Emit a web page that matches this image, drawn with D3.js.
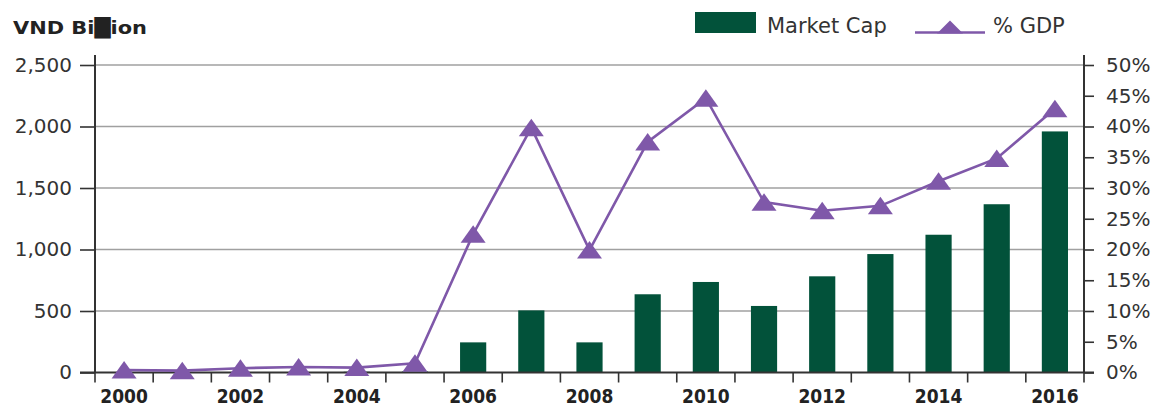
<!DOCTYPE html>
<html>
<head>
<meta charset="utf-8">
<script src="https://cdn.jsdelivr.net/npm/d3@7"></script>
<style>
  body { margin: 0; background: #fff; }
  svg { display: block; }
</style>
</head>
<body>
<div id="vis"></div>
<script>
// chart values
var years = ["2000","2001","2002","2003","2004","2005","2006","2007","2008","2009","2010","2011","2012","2013","2014","2015","2016"];
var marketCap = [1, 3, 3, 4, 6, 8, 245, 505, 245, 636, 736, 541, 782, 963, 1120, 1368, 1960];
var gdpPct = [0.4, 0.3, 0.7, 0.9, 0.8, 1.5, 22.5, 39.8, 19.9, 37.5, 44.6, 27.7, 26.3, 27.1, 31.1, 34.8, 42.9];
var leftTicks = [0, 500, 1000, 1500, 2000, 2500];
var rightTicks = [0, 5, 10, 15, 20, 25, 30, 35, 40, 45, 50];
var yearLabels = ["2000","2002","2004","2006","2008","2010","2012","2014","2016"];

var width = 1158, height = 409;
var margin = {top: 65, right: 74, bottom: 37, left: 95};

var green = "#02523a", purple = "#7f58a9", grid = "#a0a0a0", axisCol = "#333";

var svg = d3.select("#vis").append("svg")
  .attr("width", width)
  .attr("height", height);

var x = d3.scaleBand()
  .domain(years)
  .range([margin.left, width - margin.right])
  .paddingInner(0.55)
  .paddingOuter(0.275);

var y = d3.scaleLinear().domain([0, 2500]).range([height - margin.bottom + 0.5, margin.top]);
var y2 = d3.scaleLinear().domain([0, 50]).range(y.range());

var x0 = margin.left, x1 = width - margin.right, base = y(0);

// gridlines
svg.append("g")
  .selectAll("line")
  .data(leftTicks.slice(1))
  .enter().append("line")
    .attr("x1", x0).attr("x2", x1)
    .attr("y1", function(d) { return y(d); })
    .attr("y2", function(d) { return y(d); })
    .style("stroke", grid)
    .style("stroke-width", 1.6);

// bars
svg.append("g")
  .selectAll("rect")
  .data(years)
  .enter().append("rect")
    .attr("x", function(d) { return x(d); })
    .attr("width", x.bandwidth())
    .attr("y", function(d, i) { return y(marketCap[i]); })
    .attr("height", function(d, i) { return base - y(marketCap[i]); })
    .style("fill", green);

// left axis
var leftAxis = svg.append("g")
  .attr("transform", "translate(" + x0 + ",0)")
  .call(d3.axisLeft(y).tickValues(leftTicks).tickSize(15).tickPadding(8).tickFormat(d3.format(",")));
leftAxis.select(".domain").remove();
leftAxis.selectAll(".tick line").style("stroke", axisCol).style("stroke-width", 1.6);
leftAxis.selectAll("text")
  .style("font-family", "DejaVu Sans")
  .style("font-size", "20px")
  .style("fill", "#333");
svg.append("line")
  .attr("x1", x0).attr("x2", x0).attr("y1", 55).attr("y2", base)
  .style("stroke", axisCol).style("stroke-width", 2);

// right axis
var rightAxis = svg.append("g")
  .attr("transform", "translate(" + x1 + ",0)")
  .call(d3.axisRight(y2).tickValues(rightTicks).tickSize(10).tickPadding(12).tickFormat(function(d) { return d + "%"; }));
rightAxis.select(".domain").remove();
rightAxis.selectAll(".tick line").style("stroke", axisCol).style("stroke-width", 1.6);
rightAxis.selectAll("text")
  .style("font-family", "DejaVu Sans")
  .style("font-size", "20px")
  .style("fill", "#333");
svg.append("line")
  .attr("x1", x1).attr("x2", x1).attr("y1", 55).attr("y2", base)
  .style("stroke", axisCol).style("stroke-width", 2);

// bottom axis: ticks at band edges, labels on every other year
svg.append("line")
  .attr("x1", 80).attr("x2", x1 + 10).attr("y1", base).attr("y2", base)
  .style("stroke", axisCol).style("stroke-width", 2);
svg.append("g")
  .selectAll("line")
  .data(d3.range(years.length + 1))
  .enter().append("line")
    .attr("x1", function(i) { return x0 + i * x.step(); })
    .attr("x2", function(i) { return x0 + i * x.step(); })
    .attr("y1", base).attr("y2", base + 10)
    .style("stroke", axisCol).style("stroke-width", 1.6);

var bottomAxis = svg.append("g")
  .attr("transform", "translate(0," + base + ")")
  .call(d3.axisBottom(x).tickValues(yearLabels).tickSize(0).tickPadding(17));
bottomAxis.select(".domain").remove();
bottomAxis.selectAll("text")
  .style("font-family", "'Liberation Sans Narrow', 'DejaVu Sans Condensed', sans-serif")
  .style("font-weight", "bold")
  .style("font-size", "19px")
  .style("fill", "#222");

// % GDP line
var line = d3.line()
  .x(function(d, i) { return x(years[i]) + x.bandwidth() / 2; })
  .y(function(d) { return y2(d); });

svg.append("path")
  .datum(gdpPct)
  .attr("d", line)
  .style("fill", "none")
  .style("stroke", purple)
  .style("stroke-width", 2.6);

var tri = "M0,-9L12.5,8.5L-12.5,8.5Z";
svg.append("g")
  .selectAll("path")
  .data(gdpPct)
  .enter().append("path")
    .attr("d", tri)
    .attr("transform", function(d, i) {
      return "translate(" + (x(years[i]) + x.bandwidth() / 2) + "," + y2(d) + ")";
    })
    .style("fill", purple);

// unit title
svg.append("text")
  .attr("x", 13).attr("y", 34)
  .attr("textLength", 134)
  .attr("lengthAdjust", "spacingAndGlyphs")
  .style("font-family", "DejaVu Sans")
  .style("font-weight", "bold")
  .style("font-size", "18px")
  .style("fill", "#222")
  .text("VND Bi\u2588ion");

// legend
var legend = svg.append("g");
legend.append("rect")
  .attr("x", 695).attr("y", 12).attr("width", 61).attr("height", 21)
  .style("fill", green);
legend.append("text")
  .attr("x", 767).attr("y", 33)
  .style("font-family", "DejaVu Sans")
  .style("font-size", "21px")
  .style("fill", "#333")
  .text("Market Cap");
legend.append("line")
  .attr("x1", 915).attr("x2", 985).attr("y1", 32.5).attr("y2", 32.5)
  .style("stroke", purple).style("stroke-width", 2.6);
legend.append("path")
  .attr("d", "M0,-9L13,4L-13,4Z")
  .attr("transform", "translate(950,29.5)")
  .style("fill", purple);
legend.append("text")
  .attr("x", 993).attr("y", 33)
  .style("font-family", "DejaVu Sans")
  .style("font-size", "21px")
  .style("fill", "#333")
  .text("% GDP");
</script>
</body>
</html>
